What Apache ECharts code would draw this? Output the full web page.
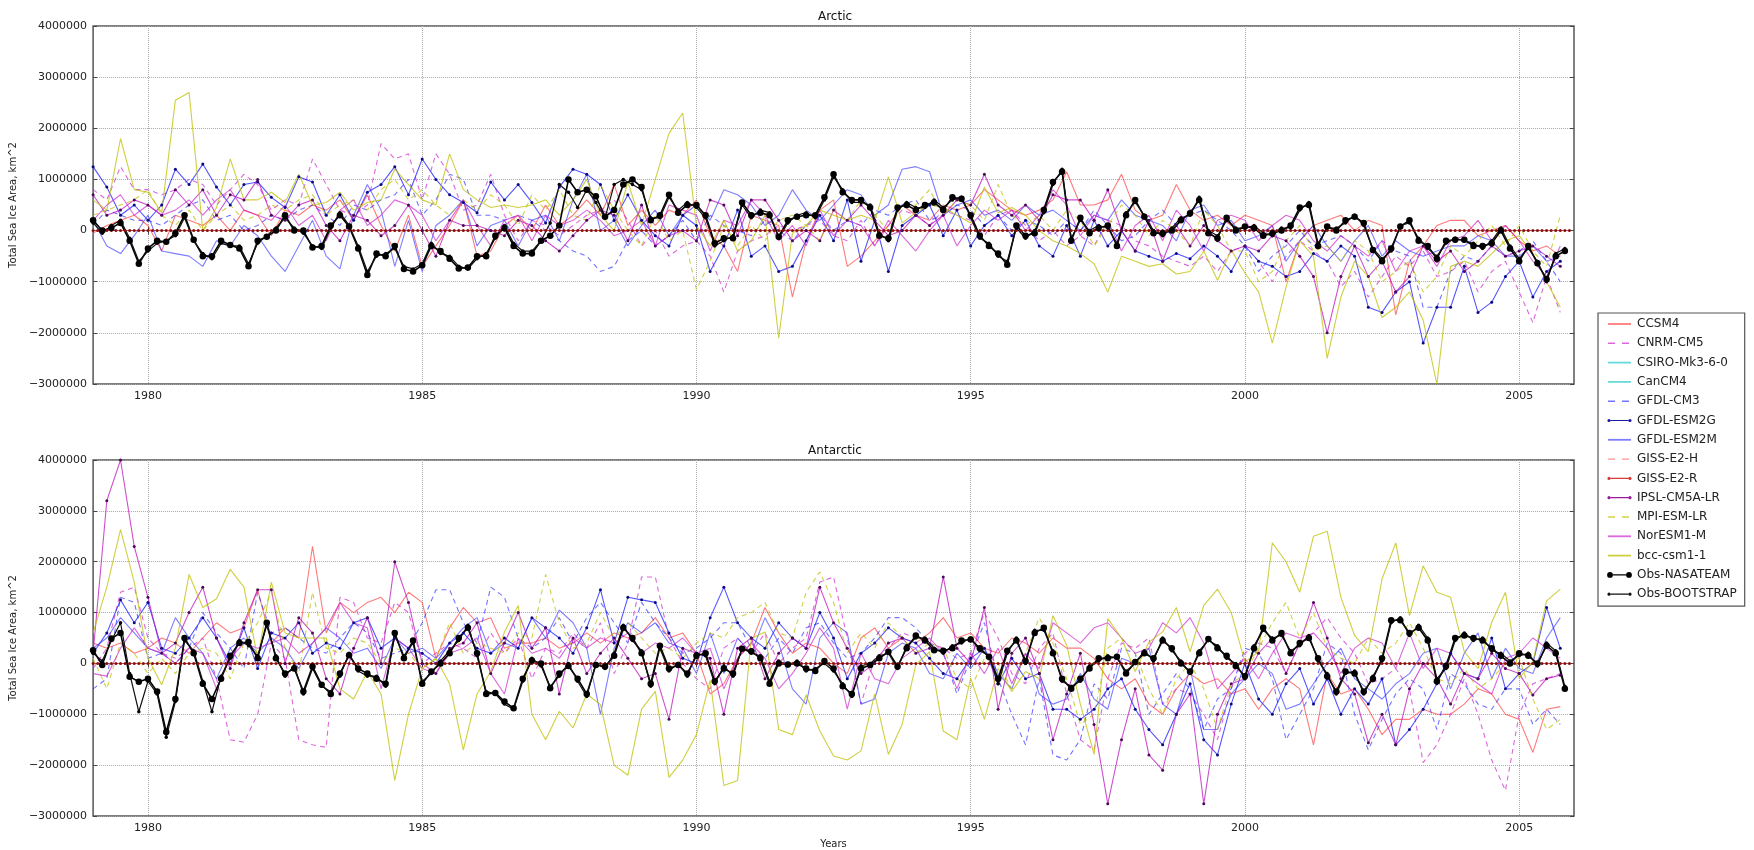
<!DOCTYPE html>
<html><head><meta charset="utf-8">
<script src="https://cdn.jsdelivr.net/npm/echarts@6/dist/echarts.min.js"></script>
<style>html,body{margin:0;padding:0;background:#fff}#c{width:1754px;height:850px}</style>
</head><body><div id="c"></div><script>
// ---------- axes / labels ----------
const START_YEAR = 1979;
const END_YEAR = 2006;
const yearTicks = [1980, 1985, 1990, 1995, 2000, 2005];
const yMin = -3000000, yMax = 4000000, yStep = 1000000;
const panelTitles = ['Arctic', 'Antarctic'];
const modelNames = ['CCSM4','CNRM-CM5','CSIRO-Mk3-6-0','CanCM4','GFDL-CM3','GFDL-ESM2G','GFDL-ESM2M',
  'GISS-E2-H','GISS-E2-R','IPSL-CM5A-LR','MPI-ESM-LR','NorESM1-M','bcc-csm1-1','Obs-NASATEAM','Obs-BOOTSTRAP'];

// ---------- data (anomalies, million km^2) ----------
// models: quarterly samples from Jan 1979; observations: every 2 months; flat series: monthly
const flatZero = [
0,0,0,0,0,0,0,0,0,0,0,0, 0,0,0,0,0,0,0,0,0,0,0,0, 0,0,0,0,0,0,0,0,0,0,0,0,
0,0,0,0,0,0,0,0,0,0,0,0, 0,0,0,0,0,0,0,0,0,0,0,0, 0,0,0,0,0,0,0,0,0,0,0,0,
0,0,0,0,0,0,0,0,0,0,0,0, 0,0,0,0,0,0,0,0,0,0,0,0, 0,0,0,0,0,0,0,0,0,0,0,0,
0,0,0,0,0,0,0,0,0,0,0,0, 0,0,0,0,0,0,0,0,0,0,0,0, 0,0,0,0,0,0,0,0,0,0,0,0,
0,0,0,0,0,0,0,0,0,0,0,0, 0,0,0,0,0,0,0,0,0,0,0,0, 0,0,0,0,0,0,0,0,0,0,0,0,
0,0,0,0,0,0,0,0,0,0,0,0, 0,0,0,0,0,0,0,0,0,0,0,0, 0,0,0,0,0,0,0,0,0,0,0,0,
0,0,0,0,0,0,0,0,0,0,0,0, 0,0,0,0,0,0,0,0,0,0,0,0, 0,0,0,0,0,0,0,0,0,0,0,0,
0,0,0,0,0,0,0,0,0,0,0,0, 0,0,0,0,0,0,0,0,0,0,0,0, 0,0,0,0,0,0,0,0,0,0,0,0,
0,0,0,0,0,0,0,0,0,0,0,0, 0,0,0,0,0,0,0,0,0,0,0,0, 0,0,0,0,0,0,0,0,0,0,0,0];

// ----- Arctic -----
const arcCCSM4 = [-0.05,0.1,0.2,0.3, 0.1,-0.4,0.3,0.2, 0.1,0.3,0.0,0.4, 0.3,-0.1,0.4,0.3, 0.5,0.4,0.6,0.2,
 0.7,0.1,-0.4,0.3, -0.7,-0.3,0.1,0.6, -0.5,-0.4,0.1,0.3, 0.0,0.5,0.1,0.3, 0.6,0.3,0.9,0.1, 0.4,0.1,0.4,0.3,
 0.6,-0.1,-0.3,-0.8, 0.3,0.2,0.1,-1.3, -0.2,0.4,0.6,-0.7, -0.5,-0.2,0.1,0.5, 0.3,0.2,0.5,0.4, 0.5,0.8,0.6,0.4,
 0.3,0.4,0.6,1.15, 0.5,0.5,0.6,1.1, 0.4,0.2,0.3,0.9, 0.4,0.2,0.3,0.1, 0.3,0.2,0.1,-1.0, -0.2,0.1,0.2,0.3,
 0.0,0.2,0.1,-1.65, -0.6,-0.3,0.1,0.2, 0.2,-0.1,0.0,0.1, -0.2,-0.4,-0.3,-0.5];
const arcCNRM = [0.8,0.6,1.25,0.8, 0.8,0.7,0.8,1.0, 0.9,0.5,0.8,1.1, 0.9,0.4,0.6,0.5, 1.4,0.9,0.4,0.3,
 0.5,1.7,1.4,1.5, 0.6,1.5,1.1,0.4, 0.5,1.1,0.3,-0.2, 0.2,0.1,-0.1,0.1, 0.3,0.4,0.6,0.2, -0.3,0.0,-0.5,-0.3,
 -0.2,-0.5,-1.2,-0.4, -0.2,-0.1,0.1,0.0, 0.1,0.2,-0.1,-0.2, 0.2,-0.3,0.1,0.4, 0.3,0.1,0.4,0.3, 0.2,-0.1,0.3,0.4,
 0.1,-0.2,0.0,-0.3, -0.1,-0.3,0.2,0.1, -0.2,-0.3,-0.5,-0.6, -0.7,-0.5,-0.8,-0.4, -0.3,-0.6,-1.0,-0.5, -0.2,-0.4,-0.6,-1.1,
 -0.8,-1.3,-0.9,-0.5, -0.7,-0.4,-0.9,-0.8, -0.6,-1.2,-0.8,-0.6, -1.2,-1.8,-0.9,-1.6];
const arcGFDLCM3 = [0.1,0.4,0.3,0.2, 0.2,0.1,0.3,0.5, 0.6,0.2,0.3,0.0, 0.1,0.3,0.2,0.4, 0.5,0.3,0.1,0.5,
 0.4,0.6,0.7,1.0, 0.3,0.6,1.1,1.0, 0.3,0.3,0.2,0.3, 0.2,0.0,-0.2,-0.4, -0.5,-0.8,-0.7,-0.2, 0.0,-0.3,-0.1,0.2,
 -0.2,0.3,0.1,0.0, -0.1,0.2,0.0,-0.2, 0.1,0.3,0.0,0.2, 0.1,0.4,0.3,0.5, 0.6,0.2,0.3,0.5, 0.4,0.1,0.3,0.0,
 0.2,0.1,-0.1,0.2, 0.0,0.4,0.1,-0.2, -0.1,0.2,0.4,0.1, 0.3,0.4,0.2,0.0, -0.3,-0.8,-0.5,-0.3, 0.0,-0.3,-0.2,-0.1,
 -0.3,-0.6,-0.2,-0.4, -0.5,-1.5,-1.5,-0.8, -0.5,-0.6,-0.3,-0.5, -0.4,-0.2,-0.6,-1.0];
const arcESM2G = [1.25,0.85,0.3,0.5, 0.2,0.5,1.2,0.9, 1.3,0.85,0.5,0.9, 0.95,0.65,0.45,1.05, 0.95,0.3,0.7,0.2,
 0.75,0.9,1.25,0.7, 1.4,1.0,0.7,0.55, 0.35,0.95,0.6,0.9, 0.55,0.15,0.85,1.2, 1.1,0.9,0.2,0.7, 0.2,-0.1,-0.3,0.3,
 0.1,-0.8,-0.3,0.4, -0.5,-0.3,-0.8,-0.7, -0.2,0.3,-0.2,0.6, -0.6,0.2,-0.8,0.1, 0.3,0.5,-0.1,0.4, -0.3,0.1,0.3,-0.1,
 0.2,-0.3,-0.5,0.1, -0.5,0.2,-0.3,0.0, -0.4,-0.5,-0.6,-0.45, -0.55,-0.3,-0.5,-0.8, -0.3,-0.6,-0.7,-0.9, -0.8,-0.45,-0.6,-0.3,
 -0.5,-1.5,-1.6,-1.2, -1.0,-2.2,-1.5,-1.5, -0.7,-1.6,-1.4,-0.9, -0.6,-1.3,-0.8,-0.6];
const arcESM2M = [0.2,-0.3,-0.45,-0.1, 0.3,-0.4,-0.45,-0.5, -0.7,-0.2,-0.3,0.1, -0.1,-0.5,-0.8,-0.3, 0.2,-0.5,-0.75,0.3,
 0.9,0.4,-0.7,0.2, -0.8,0.1,0.3,0.6, -0.3,0.1,0.2,-0.3, 0.2,0.3,-0.2,0.6, 1.1,0.0,0.2,-0.3, 0.1,0.4,-0.1,0.3,
 0.5,0.2,0.8,0.7, 0.5,0.1,0.3,0.8, 0.4,0.2,0.5,0.8, 0.7,0.3,0.5,1.2, 1.25,1.15,0.3,0.5, 0.6,0.3,0.4,0.2,
 0.5,0.3,0.4,0.2, 0.0,0.3,0.2,0.6, 0.3,0.2,0.1,-0.2, 0.4,0.5,0.1,0.2, -0.2,-0.1,0.1,-0.6, -0.2,0.1,-0.3,-0.6,
 -0.2,0.1,-0.5,-0.2, -0.4,-0.5,-0.4,-0.3, -0.3,-0.1,-0.2,-0.5, -0.5,-0.3,-0.6,-0.5];
const arcIPSL = [0.7,0.3,0.4,0.6, 0.5,0.3,0.8,0.5, 0.8,0.3,0.7,0.6, 1.0,0.3,0.2,0.5, 0.6,0.1,-0.2,0.3,
 0.2,-0.1,0.1,0.5, 0.0,-0.5,0.2,0.1, 0.1,0.0,-0.1,0.2, 0.1,-0.2,-0.4,-0.1, 0.2,0.4,0.3,-0.2, 0.5,-0.3,-0.1,0.0,
 -0.2,0.6,0.5,-0.1, 0.6,0.6,0.2,-0.2, 0.0,-0.2,0.4,0.2, 0.5,0.2,-0.1,0.0, 0.3,0.1,0.3,0.6, 0.5,1.1,0.5,0.3,
 0.5,0.2,0.7,0.6, 0.6,0.2,0.8,0.0, -0.4,0.2,-0.6,0.1, -0.3,0.1,-0.2,-0.4, -0.3,-0.4,-0.1,-0.2, -0.5,-0.9,-2.0,-0.9,
 -0.3,-0.9,-0.6,-1.2, -0.9,-0.3,-0.6,-0.4, -0.8,-0.6,-0.3,-0.5, -0.4,-0.3,-0.5,-0.7];
const arcMPI = [0.3,0.4,0.5,0.6, 0.8,0.3,0.1,0.4, 0.0,0.3,0.5,0.2, 0.3,0.5,0.4,0.6, 0.7,0.3,0.5,0.6,
 0.4,0.8,1.0,0.6, 0.8,0.5,0.3,0.6, 0.4,0.7,0.5,0.1, 0.7,0.4,0.8,0.3, 0.2,0.9,0.4,0.0, -0.3,0.3,-0.2,0.0,
 -1.15,-0.6,0.1,-0.3, 0.1,-0.2,0.2,0.3, 0.1,-0.2,0.4,0.2, 0.6,0.3,0.0,0.5, 0.5,0.8,0.3,0.6, 0.5,0.2,0.9,0.3,
 0.1,0.3,0.0,0.4, 0.2,-0.3,0.1,0.5, 0.3,-0.1,0.2,0.0, -0.3,0.4,0.1,-0.4, -0.4,-1.0,-0.8,-0.2, 0.1,-0.4,-0.3,-0.6,
 -0.2,-0.4,-1.0,-0.8, -0.6,-1.2,-0.9,-0.3, -0.5,-0.2,0.1,-0.3, 0.1,-0.4,-0.7,0.3];
const arcNorESM = [0.2,0.5,0.7,0.3, 0.5,0.3,0.4,0.6, 0.3,0.6,0.8,0.4, 0.3,0.2,0.5,0.1, 0.3,-0.2,0.4,0.6,
 0.1,0.3,0.6,0.5, 0.3,-0.2,0.2,0.6, 0.1,-0.3,0.2,0.3, -0.2,0.3,0.1,0.2, 0.4,0.2,-0.1,0.0, 0.2,-0.3,0.5,0.4,
 0.3,-0.4,0.2,0.1, 0.6,0.3,-0.2,0.1, -0.3,0.4,-0.1,0.2, 0.1,-0.3,0.2,-0.1, -0.4,0.0,0.3,-0.3, 0.1,0.4,0.2,0.4,
 0.0,0.3,0.8,0.5, -0.1,0.3,0.2,-0.4, 0.1,0.3,-0.2,0.4, 0.1,-0.4,0.2,0.3, 0.2,-0.2,0.1,0.3, 0.2,-0.2,-0.4,-0.1,
 -0.3,-0.5,-0.2,-0.8, -0.4,-0.3,-0.7,-0.2, -0.1,0.2,-0.2,0.1, -0.2,-0.6,-0.9,-0.3];
const arcBCC = [0.6,0.4,1.8,0.8, 0.75,0.35,2.55,2.7, 0.0,0.45,1.4,0.6, 0.6,0.75,0.55,1.1, 0.5,0.55,0.75,0.4,
 0.55,0.6,1.2,0.9, 0.6,0.5,1.5,0.8, 0.6,0.45,0.5,0.45, 0.5,0.6,0.3,0.6, 1.0,0.3,0.0,0.95, 0.1,1.0,1.9,2.3,
 0.1,-0.3,0.2,-0.4, -0.2,0.3,-2.1,-0.05, 0.1,0.4,0.3,0.2, 0.3,0.2,1.05,0.15, 0.35,0.5,0.45,0.3, 0.15,0.85,0.35,0.45,
 0.3,0.0,-0.2,-0.3, -0.45,-0.65,-1.2,-0.5, -0.6,-0.7,-0.65,-0.85, -0.8,-0.4,-0.97,-0.38, -0.83,-1.2,-2.2,-1.1,
 -0.2,-0.5,-2.5,-1.3, -0.6,-0.9,-1.7,-1.5, -1.2,-1.75,-3.0,-0.7, -0.6,-0.7,-0.45,-0.2, -0.1,-0.45,-1.0,-1.5];
const arcNASA = [0.2,0.0,0.05,0.15,-0.2,-0.65, -0.35,-0.2,-0.22,-0.05,0.3,-0.18, -0.5,-0.5,-0.2,-0.28,-0.35,-0.7,
 -0.2,-0.12,0.0,0.3,0.0,0.0, -0.33,-0.3,0.1,0.3,0.08,-0.35, -0.87,-0.45,-0.5,-0.3,-0.75,-0.8,
 -0.68,-0.3,-0.4,-0.55,-0.74,-0.72, -0.5,-0.5,-0.1,0.05,-0.3,-0.45, -0.45,-0.2,-0.1,0.1,1.0,0.75,
 0.8,0.67,0.27,0.4,0.9,1.0, 0.85,0.2,0.3,0.7,0.35,0.5, 0.5,0.3,-0.25,-0.15,-0.15,0.55,
 0.3,0.35,0.3,-0.12,0.2,0.27, 0.3,0.3,0.65,1.1,0.75,0.6, 0.6,0.45,-0.1,-0.15,0.45,0.5,
 0.4,0.5,0.55,0.4,0.65,0.62, 0.3,-0.1,-0.3,-0.45,-0.67,0.1, -0.1,-0.05,0.4,0.95,1.15,-0.2,
 0.25,-0.05,0.05,0.1,-0.3,0.3, 0.6,0.27,-0.05,-0.05,0.0,0.2, 0.34,0.6,-0.05,-0.15,0.25,0.0,
 0.08,0.05,-0.1,-0.05,0.0,0.1, 0.45,0.5,-0.3,0.08,0.0,0.2, 0.27,0.15,-0.38,-0.6,-0.35,0.08,
 0.2,-0.2,-0.3,-0.55,-0.2,-0.18, -0.18,-0.3,-0.3,-0.25,0.0,-0.35, -0.6,-0.3,-0.64,-0.95,-0.5,-0.4];
const arcBOOT = [0.15,-0.05,0.1,0.2,-0.15,-0.6, -0.4,-0.25,-0.2,-0.1,0.25,-0.2, -0.45,-0.55,-0.25,-0.3,-0.3,-0.65,
 -0.25,-0.1,0.05,0.25,0.05,-0.05, -0.3,-0.35,0.05,0.35,0.1,-0.3, -0.8,-0.5,-0.45,-0.35,-0.7,-0.75,
 -0.65,-0.25,-0.45,-0.5,-0.7,-0.75, -0.55,-0.45,-0.15,0.1,-0.25,-0.4, -0.4,-0.2,0.15,0.9,0.75,0.45,
 0.8,0.55,0.25,0.9,1.0,0.9, 0.8,0.25,0.25,0.65,0.4,0.55, 0.45,0.25,-0.3,-0.2,-0.1,0.5,
 0.25,0.4,0.35,-0.15,0.15,0.3, 0.35,0.25,0.6,1.05,0.8,0.55, 0.55,0.5,-0.05,-0.2,0.4,0.55,
 0.45,0.45,0.6,0.45,0.6,0.65, 0.25,-0.15,-0.25,-0.5,-0.6,0.05, -0.15,0.0,0.35,0.9,1.2,-0.15,
 0.2,0.0,0.1,0.05,-0.25,0.35, 0.55,0.3,0.0,-0.1,0.05,0.25, 0.3,0.65,0.0,-0.1,0.2,0.05,
 0.05,0.1,-0.05,-0.1,0.05,0.05, 0.4,0.55,-0.25,0.05,0.05,0.15, 0.3,0.1,-0.35,-0.55,-0.4,0.1,
 0.15,-0.15,-0.35,-0.5,-0.25,-0.15, -0.2,-0.25,-0.35,-0.2,0.05,-0.3, -0.55,-0.35,-0.6,-1.0,-0.45,-0.35];

// ----- Antarctic -----
const antCCSM4 = [0.4,0.3,0.4,0.2, 0.3,0.5,0.4,0.2, 0.5,0.8,0.6,0.7, 1.45,0.4,0.7,0.5, 2.3,0.6,1.2,1.0,
 1.2,1.3,1.0,1.4, 1.2,0.1,0.7,1.1, 0.8,0.9,0.3,0.4, 0.4,0.5,0.3,0.4, 0.6,0.4,0.6,0.5, 0.6,0.9,0.5,0.6,
 0.2,-0.6,-0.4,0.1, 0.4,1.1,0.6,0.2, 0.4,0.3,0.0,-0.2, 0.5,0.7,0.3,0.5, 0.4,0.6,0.9,0.5, 0.6,0.3,0.2,0.5,
 0.4,0.2,0.5,0.3, 0.3,0.1,-0.3,-0.5, -0.3,-0.8,-1.0,-0.5, -0.2,-0.4,-0.3,-0.6, -0.5,-0.9,-0.5,-0.3, -0.5,-1.6,-0.2,-0.6,
 -0.5,-0.9,-1.4,-1.1, -1.1,-0.9,-1.0,-1.0, -0.8,-0.5,-0.6,-1.0, -1.1,-1.75,-0.9,-0.85];
const antCNRM = [-0.1,0.3,1.4,1.5, 0.5,0.2,0.1,0.3, 0.5,-0.3,-1.5,-1.55, -1.0,0.4,0.1,-1.5, -1.6,-1.65,1.3,1.2,
 0.5,0.4,1.2,1.0, 0.0,0.2,0.4,0.3, 0.1,0.6,0.2,0.5, -0.3,0.3,0.2,0.6, 0.3,0.8,-0.2,0.4, 1.7,1.7,0.5,0.0,
 -0.3,-0.5,0.3,0.5, 0.2,0.6,0.0,0.3, 0.5,1.6,1.7,0.5, -0.8,0.1,0.3,0.6, 0.5,0.4,0.3,0.1, 0.2,1.0,0.5,-0.2,
 -0.4,0.3,0.6,-0.6, -1.5,-1.7,-0.3,0.4, 0.3,0.5,-0.8,-0.5, -0.6,-1.0,-1.5,-0.5, 0.2,0.4,0.3,-0.2, 0.4,0.6,0.9,0.5,
 0.2,-0.4,-0.3,-0.1, -0.5,-1.95,-1.6,-1.0, -0.3,-1.0,-1.9,-2.5, -1.0,-0.4,-0.3,-0.2];
const antGFDLCM3 = [-0.5,-0.3,1.3,1.2, 0.1,0.2,0.0,0.3, 1.0,0.6,0.3,-0.1, 1.4,0.6,0.7,0.5, 0.3,0.2,0.5,0.8,
 0.6,0.1,0.2,0.3, 0.8,1.45,1.45,0.8, 0.4,1.5,1.3,0.5, 0.3,0.5,0.9,0.4, 0.9,1.2,0.8,0.4, 1.2,0.8,0.5,0.2,
 0.3,0.5,0.8,0.8, 0.3,0.1,0.5,0.2, 0.7,0.8,0.4,0.1, 0.2,0.5,0.9,0.9, 0.7,0.4,0.2,-0.6, 0.1,0.8,-0.3,-1.0,
 -1.6,-0.3,-1.8,-1.9, -1.5,-0.4,-0.7,0.3, 0.2,-1.0,-0.6,-0.2, -0.5,-1.3,-0.7,-0.5, 0.3,0.2,-0.3,-1.5, -1.0,-0.5,0.4,0.2,
 -1.0,-1.7,-1.1,-0.6, -0.3,-0.5,-1.3,-0.2, -0.4,-0.8,-0.9,-0.5, -0.5,-1.2,-0.9,-1.2];
const antESM2G = [0.2,0.6,1.25,0.8, 1.2,0.3,0.2,0.5, 0.9,0.5,0.0,0.7, -0.1,0.6,0.5,0.8, 0.2,0.4,0.3,0.8,
 0.9,0.3,0.5,0.3, 0.2,0.0,0.4,0.6, 0.3,0.2,0.5,0.3, 0.9,0.7,0.5,0.2, 0.7,1.45,0.4,1.3, 1.25,1.2,0.6,0.1,
 0.0,0.9,1.5,0.8, 0.5,0.3,0.8,0.5, 0.3,1.0,0.5,-0.3, 0.2,0.4,0.7,0.5, 0.4,0.1,-0.2,-0.3, 0.1,0.3,-0.4,0.1,
 -0.3,-0.2,-0.9,-0.9, -1.1,-0.9,-0.5,-0.3, -0.9,-1.3,-1.6,-1.0, -0.4,-1.5,-1.8,-0.8, 0.0,-0.7,-1.0,-0.4, -0.1,-0.8,-0.3,-1.0,
 -0.5,-0.8,-0.3,-1.6, -1.3,-0.9,-0.4,0.2, -0.2,-0.3,0.5,-0.5, -0.2,0.0,1.1,0.3];
const antESM2M = [0.3,0.5,0.9,0.6, 0.3,0.2,0.9,0.5, 0.2,-0.3,0.3,0.5, 0.2,0.5,0.3,-0.1, 0.4,0.7,0.5,0.2,
 0.3,-0.1,0.5,0.2, 0.3,0.1,0.4,0.7, 0.9,0.2,0.4,0.3, 0.9,0.5,1.05,0.8, 0.3,-1.0,0.3,0.8, 0.6,0.8,0.4,0.3,
 -0.2,0.6,-0.2,0.5, 0.2,0.9,0.4,-0.5, -0.8,0.5,0.8,0.6, -0.8,-0.7,0.2,0.4, 0.3,-0.2,-0.3,0.2, -0.1,0.3,-0.2,-0.5,
 0.2,-0.6,-0.8,-0.7, -0.2,-0.7,-0.9,0.1, 0.0,0.3,-0.8,-1.0, -0.1,-1.3,-1.3,-0.6, -0.3,0.0,-0.2,-0.9, -0.8,-0.4,0.0,0.3,
 -0.3,-0.5,-0.7,-0.4, -0.2,0.2,0.3,-0.5, 0.2,0.6,-0.3,0.3, -0.1,-0.2,0.5,0.9];
const antIPSL = [0.2,3.2,4.0,2.3, 1.3,0.2,0.4,1.0, 1.5,0.5,-0.1,0.8, 1.45,1.45,0.0,0.9, 0.6,-0.3,-0.6,0.3,
 0.9,0.0,2.0,1.2, 0.0,-0.2,0.3,0.4, 0.8,-0.2,0.4,1.0, 0.3,0.7,-0.6,0.5, -0.2,0.2,0.5,0.1, -0.3,-0.2,-1.1,0.3,
 0.2,0.1,-1.0,0.3, 0.5,-0.3,0.2,0.5, 0.3,1.5,0.8,0.3, -0.2,0.0,0.4,0.5, 0.2,0.3,1.7,0.3, 0.0,1.1,-0.9,0.2,
 0.5,-0.2,-1.5,-0.6, 0.2,-1.2,-2.76,-1.5, -0.5,-1.8,-2.1,-1.0, -0.6,-2.76,-1.0,-0.4, -0.3,0.2,0.5,-0.2, 0.4,1.2,0.5,-0.3,
 -0.6,-1.56,-1.0,-1.6, -0.5,0.0,-0.3,-0.8, -0.2,-0.3,0.2,-0.1, -0.2,-0.62,-0.3,-0.23];
const antMPI = [0.1,-0.5,0.4,0.2, -0.2,0.1,-0.2,0.2, 0.3,0.2,-0.3,0.4, 0.8,1.4,0.3,-0.2, 1.4,0.3,0.2,0.5,
 0.4,0.0,0.3,0.2, -0.1,0.1,0.8,0.2, 0.4,0.3,0.2,0.6, 0.5,1.75,0.8,0.3, 0.4,1.0,0.5,0.8, 0.5,0.2,0.3,0.1,
 0.4,0.6,0.5,0.9, 1.0,1.2,0.6,0.5, 1.4,1.8,1.2,0.2, 0.6,0.3,0.8,0.5, 0.2,0.4,0.3,-0.3, -0.5,0.1,0.0,-0.5,
 0.2,0.9,0.4,-0.3, -1.2,-1.0,0.3,0.5, 0.2,-0.5,-1.0,-0.3, 0.0,-0.5,-1.3,-0.4, -0.2,0.3,0.8,1.2, 0.5,1.0,0.3,0.1,
 0.0,0.5,0.2,0.4, 0.8,0.3,-0.3,-0.4, -0.1,-0.5,-0.3,0.0, 0.1,-0.7,-1.3,-1.1];
const antNorESM = [-0.2,-0.25,0.3,0.7, 0.3,0.2,0.0,0.3, 0.2,-0.5,0.1,0.4, 0.3,0.4,0.5,0.2, 0.4,0.7,1.2,0.8,
 0.7,-0.5,0.5,0.3, -0.1,-0.2,0.2,0.3, 0.5,-0.2,-0.6,0.5, 0.2,0.3,0.1,0.5, 0.3,0.5,0.4,0.6, 0.2,0.4,0.3,0.5,
 0.2,0.3,-0.5,0.1, 0.4,0.1,-0.5,-0.2, 0.2,0.7,0.3,-0.9, 0.2,-0.3,-0.4,0.1, 0.3,0.5,0.2,-0.5, 0.2,-0.2,0.3,-0.4,
 0.2,-0.1,0.8,0.6, 0.4,0.7,0.8,0.5, 0.2,0.3,0.8,0.6, 0.9,0.4,-0.5,-0.2, 0.1,-0.3,0.2,0.6, 0.5,0.6,0.3,-0.2,
 0.3,0.5,0.4,-0.1, 0.6,-0.1,0.3,0.2, -0.2,-0.4,-0.6,0.1, 0.2,0.5,0.3,0.1];
const antBCC = [0.6,1.5,2.63,1.6, 0.1,-0.42,0.3,1.75, 1.1,1.27,1.85,1.5, 0.1,1.6,0.6,0.5, 0.5,0.5,-0.5,-0.7,
 -0.16,-0.6,-2.3,-1.0, -0.1,0.1,-0.4,-1.7, -0.6,-0.16,0.62,1.14, -1.0,-1.5,-0.94,-1.27, -0.6,-0.81,-2.0,-2.2, -0.9,-0.55,-2.24,-1.9,
 -1.4,-0.33,-2.4,-2.3, 0.49,0.62,-1.3,-1.4, -0.62,-1.33,-1.82,-1.9, -1.72,-0.6,-1.79,-1.2, -0.03,0.23,-1.33,-1.5, -0.29,-1.1,-0.1,-0.55,
 -0.16,-0.3,0.94,0.36, -0.8,-1.79,0.88,0.5, -0.16,0.42,0.62,1.1, 0.23,1.14,1.46,1.0, 0.03,0.23,2.37,2.0, 1.4,2.5,2.6,1.3,
 0.55,0.23,1.66,2.37, 0.94,1.92,1.4,1.3, 0.23,-0.1,0.81,1.4, -0.29,0.03,1.23,1.46];
const antNASA = [0.26,-0.03,0.49,0.6,-0.26,-0.36, -0.3,-0.55,-1.35,-0.7,0.5,0.2, -0.4,-0.7,-0.3,0.15,0.4,0.42,
 0.1,0.8,0.1,-0.2,-0.1,-0.55, -0.06,-0.42,-0.6,-0.2,0.16,-0.1, -0.2,-0.3,-0.4,0.6,0.1,0.45,
 -0.4,-0.16,0.0,0.2,0.5,0.7, 0.2,-0.6,-0.58,-0.75,-0.88,-0.3, 0.06,0.0,-0.49,-0.2,-0.05,-0.3,
 -0.6,-0.03,-0.06,0.15,0.7,0.5, 0.2,-0.4,0.35,-0.1,-0.03,-0.2, 0.15,0.2,-0.35,-0.1,-0.2,0.29,
 0.24,0.1,-0.4,0.0,-0.02,0.0, -0.1,-0.15,0.05,-0.1,-0.45,-0.6, -0.1,-0.03,0.1,0.23,-0.06,0.3,
 0.55,0.45,0.26,0.25,0.3,0.45, 0.47,0.3,0.13,-0.3,0.25,0.45, 0.05,0.6,0.7,0.2,-0.3,-0.5,
 -0.3,-0.1,0.1,0.1,0.13,-0.2, 0.03,0.2,0.1,0.45,0.3,0.0, -0.16,0.2,0.48,0.3,0.15,-0.05,
 -0.25,0.3,0.7,0.45,0.6,0.2, 0.4,0.5,0.1,-0.25,-0.55,-0.16, -0.2,-0.55,-0.3,0.1,0.85,0.85,
 0.6,0.7,0.45,-0.35,-0.05,0.5, 0.55,0.5,0.45,0.3,0.15,0.0, 0.2,0.15,0.0,0.35,0.2,-0.5];
const antBOOT = [0.2,0.05,0.45,0.8,-0.2,-0.95, -0.35,-0.6,-1.45,-0.75,0.45,0.25, -0.35,-0.95,-0.25,0.1,0.45,0.35,
 0.15,0.75,0.15,-0.25,-0.05,-0.6, -0.1,-0.45,-0.55,-0.25,0.2,-0.15, -0.25,-0.25,-0.45,0.55,0.15,0.4,
 -0.35,-0.2,0.05,0.25,0.45,0.75, 0.15,-0.55,-0.6,-0.8,-0.9,-0.35, 0.1,-0.05,-0.45,-0.25,0.0,-0.35,
 -0.65,0.0,-0.1,0.2,0.75,0.45, 0.25,-0.45,0.3,-0.15,0.0,-0.25, 0.2,0.15,-0.4,-0.05,-0.25,0.3,
 0.2,0.15,-0.35,0.05,-0.05,0.05, -0.15,-0.1,0.0,-0.15,-0.4,-0.65, -0.05,0.0,0.15,0.2,-0.1,0.35,
 0.5,0.5,0.3,0.2,0.35,0.4, 0.5,0.25,0.15,-0.4,0.2,0.5, 0.0,0.65,0.65,0.25,-0.35,-0.45,
 -0.35,-0.05,0.05,0.15,0.1,-0.15, 0.0,0.25,0.05,0.5,0.25,0.05, -0.2,0.25,0.45,0.35,0.1,0.0,
 -0.3,0.35,0.65,0.5,0.55,0.25, 0.35,0.55,0.05,-0.2,-0.6,-0.2, -0.15,-0.6,-0.25,0.05,0.8,0.9,
 0.55,0.75,0.5,-0.3,-0.1,0.45, 0.6,0.45,0.5,0.25,0.2,0.05, 0.15,0.2,-0.05,0.4,0.25,-0.45];

// ---------- styles ----------
const styles = {
  'CCSM4':        {color:'rgba(255,40,40,0.62)', type:'solid', icon:'solid'},
  'CNRM-CM5':     {color:'rgba(205,40,205,0.7)', type:[5,4], icon:'dash'},
  'CSIRO-Mk3-6-0':{color:'rgba(0,191,191,0.6)', type:'solid', icon:'solid'},
  'CanCM4':       {color:'rgba(0,191,191,0.6)', type:'solid', icon:'solid'},
  'GFDL-CM3':     {color:'rgba(40,40,255,0.65)', type:[5,4], icon:'dash'},
  'GFDL-ESM2G':   {color:'rgba(30,30,255,0.75)', type:'solid', sym:3, symColor:'#0a0a80', icon:'dots', legendColor:'#1a1aa0'},
  'GFDL-ESM2M':   {color:'rgba(40,40,255,0.6)', type:'solid', icon:'solid'},
  'GISS-E2-H':    {color:'rgba(255,60,60,0.55)', type:[5,4], icon:'dash'},
  'GISS-E2-R':    {color:'rgba(255,40,40,0.6)', type:'solid', sym:3, symColor:'#8a1010', icon:'dots', legendColor:'#d83a3a'},
  'IPSL-CM5A-LR': {color:'rgba(190,20,190,0.75)', type:'solid', sym:3, symColor:'#4a0a55', icon:'dots', legendColor:'#9a1a9a'},
  'MPI-ESM-LR':   {color:'rgba(191,191,0,0.72)', type:[5,4], icon:'dash'},
  'NorESM1-M':    {color:'rgba(205,40,205,0.7)', type:'solid', icon:'solid'},
  'bcc-csm1-1':   {color:'rgba(191,191,0,0.75)', type:'solid', icon:'solid'},
  'Obs-NASATEAM': {color:'#000', type:'solid', width:1.6, sym:6.5, symColor:'#000', icon:'bigdots'},
  'Obs-BOOTSTRAP':{color:'#111', type:'solid', width:1.2, sym:3.5, symColor:'#000', icon:'dots'}
};

// legend icon shapes (25 x 10 box); segments do not overlap the end dots
const BOX = 'M0,0 L0,0 M25,10 L25,10 ';
const circ = (cx, r) => `M${cx - r},5 A${r},${r} 0 1 1 ${cx + r},5 A${r},${r} 0 1 1 ${cx - r},5 Z `;
const seg = (x1, x2, h) => `M${x1},${5 - h} L${x2},${5 - h} L${x2},${5 + h} L${x1},${5 + h} Z `;
const iconPaths = {
  solid: 'path://' + BOX + seg(1, 24, 0.9),
  dash: 'path://' + BOX + seg(1, 8, 0.7) + seg(15, 22, 0.7),
  dots: 'path://' + BOX + circ(2, 1.6) + seg(3.6, 21.4, 0.6) + circ(23, 1.6),
  bigdots: 'path://' + BOX + circ(3, 2.9) + seg(5.9, 19.1, 0.7) + circ(22, 2.9)
};

const panels = [
  {grid:0, series:{'CCSM4':[arcCCSM4,4],'CNRM-CM5':[arcCNRM,4],'CSIRO-Mk3-6-0':[flatZero,12],'CanCM4':[flatZero,12],
    'GFDL-CM3':[arcGFDLCM3,4],'GFDL-ESM2G':[arcESM2G,4],'GFDL-ESM2M':[arcESM2M,4],'GISS-E2-H':[flatZero,12],
    'GISS-E2-R':[flatZero,12],'IPSL-CM5A-LR':[arcIPSL,4],'MPI-ESM-LR':[arcMPI,4],'NorESM1-M':[arcNorESM,4],
    'bcc-csm1-1':[arcBCC,4],'Obs-NASATEAM':[arcNASA,6],'Obs-BOOTSTRAP':[arcBOOT,6]}},
  {grid:1, series:{'CCSM4':[antCCSM4,4],'CNRM-CM5':[antCNRM,4],'CSIRO-Mk3-6-0':[flatZero,12],'CanCM4':[flatZero,12],
    'GFDL-CM3':[antGFDLCM3,4],'GFDL-ESM2G':[antESM2G,4],'GFDL-ESM2M':[antESM2M,4],'GISS-E2-H':[flatZero,12],
    'GISS-E2-R':[flatZero,12],'IPSL-CM5A-LR':[antIPSL,4],'MPI-ESM-LR':[antMPI,4],'NorESM1-M':[antNorESM,4],
    'bcc-csm1-1':[antBCC,4],'Obs-NASATEAM':[antNASA,6],'Obs-BOOTSTRAP':[antBOOT,6]}}
];

function toPoints(vals, perYear) {
  return vals.map((v, i) => [START_YEAR + i / perYear, v * 1e6]);
}

const series = [];
panels.forEach(p => {
  modelNames.forEach(name => {
    const [vals, per] = p.series[name];
    const st = styles[name];
    series.push({
      type:'line', name, xAxisIndex:p.grid, yAxisIndex:p.grid,
      data: toPoints(vals, per),
      symbol: st.sym ? 'circle' : 'none',
      symbolSize: st.sym || 0,
      showSymbol: !!st.sym,
      itemStyle: {color: st.sym ? st.symColor : st.color, borderWidth:0},
      lineStyle: {color: st.color, width: st.width || 1.1, type: st.type},
      emphasis: {disabled:true}, silent:true, clip:true
    });
  });
});

const gridPos = [{top:26, height:358}, {top:460, height:359}];
const fmtY = v => v < 0 ? '\u2212' + Math.abs(v) : String(v);
const FONT = 'DejaVu Sans';

const xAxes = [], yAxes = [];
[0,1].forEach(g => {
  xAxes.push({
    type:'value', gridIndex:g, min:START_YEAR, max:END_YEAR,
    axisLine:{show:false},
    axisTick:{show:true, inside:true, length:4, customValues:yearTicks, lineStyle:{color:'#444'}},
    axisLabel:{customValues:yearTicks, formatter:v => String(v), fontSize:11, color:'#222', margin:7, fontFamily:FONT},
    splitLine:{show:true, lineStyle:{color:'#a8a8a8', type:'dotted', width:1}},
    name: g === 1 ? 'Years' : '', nameLocation:'middle', nameGap:23,
    nameTextStyle:{fontSize:10, color:'#222', fontFamily:FONT}
  });
  yAxes.push({
    type:'value', gridIndex:g, min:yMin, max:yMax, interval:yStep,
    axisLine:{show:false},
    axisTick:{show:true, inside:true, length:4, lineStyle:{color:'#444'}},
    axisLabel:{formatter:fmtY, fontSize:11, color:'#222', margin:6, fontFamily:FONT},
    splitLine:{show:true, lineStyle:{color:'#a8a8a8', type:'dotted', width:1}},
    name:'Total Sea Ice Area, km^2', nameLocation:'middle', nameGap:64,
    nameTextStyle:{fontSize:10, color:'#222', fontFamily:FONT}
  });
});
[0,1].forEach(g => {
  xAxes.push({type:'value', gridIndex:g, position:'top', min:START_YEAR, max:END_YEAR,
    axisLine:{show:false}, axisLabel:{show:false}, splitLine:{show:false},
    axisTick:{show:true, inside:true, length:4, customValues:yearTicks, lineStyle:{color:'#444'}}});
  yAxes.push({type:'value', gridIndex:g, position:'right', min:yMin, max:yMax, interval:yStep,
    axisLine:{show:false}, axisLabel:{show:false}, splitLine:{show:false},
    axisTick:{show:true, inside:true, length:4, lineStyle:{color:'#444'}}});
});

const legendData = modelNames.map(name => {
  const st = styles[name];
  return {name, icon: iconPaths[st.icon],
    itemStyle:{color: st.legendColor || st.color, borderWidth:0, opacity:1}};
});

const chart = echarts.init(document.getElementById('c'), null, {renderer:'canvas'});
chart.setOption({
  animation:false,
  backgroundColor:'#fff',
  textStyle:{fontFamily:FONT},
  title:[
    {text:panelTitles[0], left:830, top:6, textAlign:'center', textStyle:{fontSize:12, fontWeight:'normal', color:'#111', fontFamily:FONT}},
    {text:panelTitles[1], left:830, top:440, textAlign:'center', textStyle:{fontSize:12, fontWeight:'normal', color:'#111', fontFamily:FONT}}
  ],
  grid: gridPos.map(p => ({left:87, width:1487, top:p.top, height:p.height, show:true,
    borderColor:'#555', borderWidth:1.5, backgroundColor:'transparent'})),
  xAxis: xAxes,
  yAxis: yAxes,
  legend:{
    orient:'vertical', left:1598, top:313, data:legendData,
    itemWidth:25, itemHeight:10, itemGap:5.3,
    padding:[4,8,5,9], borderColor:'#555', borderWidth:1.2, backgroundColor:'#fff',
    itemStyle:{borderWidth:0}, lineStyle:{width:0},
    textStyle:{fontSize:12, color:'#222', lineHeight:14, fontFamily:FONT},
    selectedMode:false
  },
  series
});
</script></body></html>
